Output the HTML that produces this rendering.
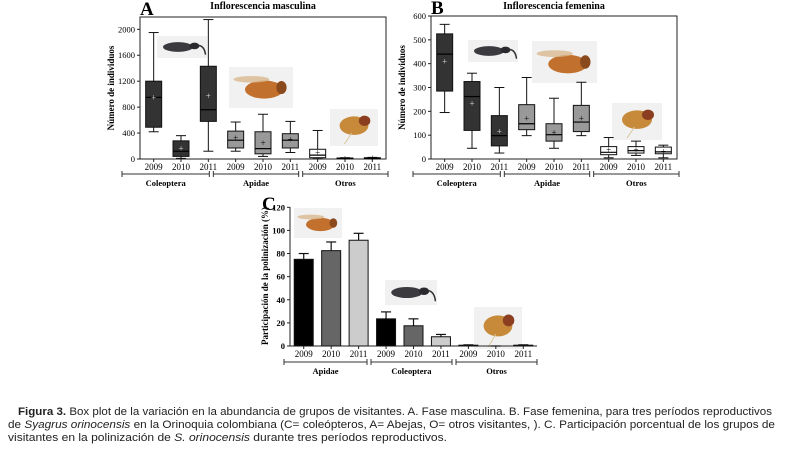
<!DOCTYPE html>
<html><head><meta charset="utf-8">
<style>
html,body{margin:0;padding:0;background:#fff;}
svg{display:block;}
.t{font-family:"Liberation Serif",serif;}
.c{font-family:"Liberation Sans",sans-serif;}
</style></head>
<body>
<svg id="fig" width="786" height="449" viewBox="0 0 786 449" xmlns="http://www.w3.org/2000/svg">
</svg>
<script>
// ---- data ----
const years = ["2009","2010","2011","2009","2010","2011","2009","2010","2011"];
const groupsAB = ["Coleoptera","Apidae","Otros"];
const groupsC = ["Apidae","Coleoptera","Otros"];
// Chart A box stats [min,q1,median,q3,max,mean]
const boxA = [
 [420,490,950,1200,1950,950],[10,40,120,280,360,160],[120,580,760,1430,2150,970],
 [120,170,290,430,570,320],[40,80,160,420,690,250],[100,170,290,390,580,300],
 [5,20,60,150,440,100],[0,5,10,15,20,10],[0,5,10,20,25,12]];
const ticksA = [0,400,800,1200,1600,2000];
// Chart B box stats
const boxB = [
 [195,285,440,525,565,410],[45,120,262,325,360,232],[25,55,98,182,300,115],
 [98,123,148,228,342,170],[45,75,102,148,255,112],[98,115,155,225,322,170],
 [5,18,28,52,90,37],[15,25,35,52,75,38],[5,22,30,50,58,32]];
const ticksB = [0,100,200,300,400,500,600];
// Chart C bars
const barC = [75,82.5,91.5,23.5,17.5,8,0.7,0,0.7];
const errC = [5,7.5,6,6,6,2,0.3,0,0.3];
const ticksC = [0,20,40,60,80,100,120];

const NS="http://www.w3.org/2000/svg";
const svg=document.getElementById('fig');
function el(tag,attrs,parent,text){const e=document.createElementNS(NS,tag);for(const k in attrs)e.setAttribute(k,attrs[k]);if(text!==undefined)e.textContent=text;(parent||svg).appendChild(e);return e;}

function insect(g,kind,x,y,w,h){
  el('rect',{x:x,y:y,width:w,height:h,fill:'#f1f1f1'},g);
  if(kind==='weevil'){
    el('ellipse',{cx:x+w*0.42,cy:y+h*0.5,rx:w*0.3,ry:h*0.22,fill:'#3a3a3f'},g);
    el('ellipse',{cx:x+w*0.75,cy:y+h*0.45,rx:w*0.1,ry:h*0.15,fill:'#2a2a2e'},g);
    el('path',{d:`M${x+w*0.82} ${y+h*0.42} Q${x+w*0.95} ${y+h*0.45} ${x+w*0.97} ${y+h*0.85}`,stroke:'#333',fill:'none','stroke-width':1.5},g);
  }else if(kind==='bee'){
    el('ellipse',{cx:x+w*0.55,cy:y+h*0.55,rx:w*0.3,ry:h*0.22,fill:'#c2702e'},g);
    el('ellipse',{cx:x+w*0.82,cy:y+h*0.5,rx:w*0.08,ry:h*0.16,fill:'#8a4a1e'},g);
    el('ellipse',{cx:x+w*0.35,cy:y+h*0.3,rx:w*0.28,ry:h*0.08,fill:'#d9b98e',opacity:0.8},g);
  }else{
    el('ellipse',{cx:x+w*0.5,cy:y+h*0.45,rx:w*0.3,ry:h*0.25,fill:'#c78a3a'},g);
    el('ellipse',{cx:x+w*0.72,cy:y+h*0.32,rx:w*0.12,ry:h*0.14,fill:'#8c3f20'},g);
    el('line',{x1:x+w*0.45,y1:y+h*0.65,x2:x+w*0.3,y2:y+h*0.95,stroke:'#d8c8a0','stroke-width':1},g);
  }
}

function axes(g,o){
  // o: x0,x1,yTop,yZero,vmax (value at yTop ref), ticks, tickRef
  const sy=v=>o.yZero-(v/o.refV)*(o.yZero-o.refY);
  el('rect',{x:o.x0,y:o.yTop,width:o.x1-o.x0,height:o.yZero-o.yTop,fill:'none',stroke:'#222','stroke-width':1},g);
  o.ticks.forEach(t=>{
    const y=sy(t);
    el('line',{x1:o.x0-3,y1:y,x2:o.x0,y2:y,stroke:'#222'},g);
    const tl=el('text',{x:o.x0-5,y:y+3,'font-size':8.5,'text-anchor':'end',class:'t'},g,String(t));
    
    
  });
  const slot=(o.x1-o.x0)/9;
  const cx=i=>o.x0+slot*(i+0.5);
  years.forEach((yr,i)=>{
    el('line',{x1:cx(i),y1:o.yZero,x2:cx(i),y2:o.yZero+3,stroke:'#222'},g);
    const tl=el('text',{x:cx(i),y:o.yZero+11,'font-size':9,'text-anchor':'middle',class:'t'},g,yr);
    
    
  });
  const by=o.yZero+15;
  o.groups.forEach((gname,k)=>{
    const a=o.x0-18+k*((o.x1-o.x0+22)/3)+ (k>0?2:0), b=o.x0-18+(k+1)*((o.x1-o.x0+22)/3)-2;
    el('line',{x1:a,y1:by,x2:b,y2:by,stroke:'#333'},g);
    el('line',{x1:a,y1:by-3,x2:a,y2:by+3,stroke:'#333'},g);
    el('line',{x1:b,y1:by-3,x2:b,y2:by+3,stroke:'#333'},g);
    const gl=el('text',{x:(a+b)/2,y:by+12,'font-size':8.5,'font-weight':'bold','text-anchor':'middle',class:'t'},g,gname);
    
    
  });
  return {sy,cx,slot};
}

function boxChart(name,letter,title,data,ticks,o,imgs){
  const g=el('g',{},svg);
  
  
  const L=el('text',{x:o.x0,y:o.yTop-2,'font-size':19,'font-weight':'bold',class:'t'},g,letter);
  
  const T=el('text',{x:(o.x0+o.x1)/2,y:9,'font-size':10,'font-weight':'bold','text-anchor':'middle',class:'t'},g,title);
  
  const Y=el('text',{transform:`translate(${o.x0-26},${(o.yTop+o.yZero)/2}) rotate(-90)`,'font-size':9,'font-weight':'bold','text-anchor':'middle',class:'t'},g,'Número de individuos');
  
  imgs.forEach(m=>insect(g,m[0],m[1],m[2],m[3],m[4]));
  o.ticks=ticks;o.groups=groupsAB;
  const ax=axes(g,o);
  const fills=['#333','#333','#333','#999','#999','#999','#fff','#fff','#fff'];
  const hw=8;
  data.forEach((d,i)=>{
    const c=ax.cx(i),s=ax.sy;
    const bg=el('g',{},g);
    
    
    el('line',{x1:c,y1:s(d[0]),x2:c,y2:s(d[4]),stroke:'#111'},bg);
    el('line',{x1:c-5,y1:s(d[0]),x2:c+5,y2:s(d[0]),stroke:'#111'},bg);
    el('line',{x1:c-5,y1:s(d[4]),x2:c+5,y2:s(d[4]),stroke:'#111'},bg);
    el('rect',{x:c-hw,y:s(d[3]),width:hw*2,height:Math.max(0.5,s(d[1])-s(d[3])),fill:fills[i],stroke:'#111'},bg);
    el('line',{x1:c-hw,y1:s(d[2]),x2:c+hw,y2:s(d[2]),stroke:'#000','stroke-width':1.2},bg);
    el('text',{x:c,y:s(d[5])+3,'font-size':9,'text-anchor':'middle',fill:fills[i]==='#333'?'#ddd':'#000',class:'t'},bg,'+');
  });
}

boxChart('chart-a-masculina','A','Inflorescencia masculina',boxA,ticksA,
  {x0:140,x1:386,yTop:17,yZero:159,refV:2000,refY:29.3},
  [['weevil',157,36,50,22],['bee',229,67,64,41],['fly',330,109,48,37]]);
boxChart('chart-b-femenina','B','Inflorescencia femenina',boxB,ticksB,
  {x0:431,x1:677,yTop:16,yZero:159,refV:600,refY:16},
  [['weevil',468,40,50,22],['bee',532,41,65,42],['fly',612,103,50,37]]);

// Chart C
(function(){
  const g=el('g',{},svg);
  
  
  const o={x0:290,x1:537,yTop:207,yZero:346,refV:120,refY:207.3,ticks:ticksC,groups:groupsC};
  const L=el('text',{x:262,y:210,'font-size':19,'font-weight':'bold',class:'t'},g,'C');
  
  const Y=el('text',{transform:`translate(268,276) rotate(-90)`,'font-size':9,'font-weight':'bold','text-anchor':'middle',class:'t'},g,'Participación de la polinización (%)');
  
  insect(g,'bee',294,208,48,30);insect(g,'weevil',385,280,52,25);insect(g,'fly',474,307,48,42);
  // open-style axes (left & bottom only)
  el('line',{x1:o.x0,y1:o.yTop,x2:o.x0,y2:o.yZero,stroke:'#222'},g);
  el('line',{x1:o.x0,y1:o.yZero,x2:o.x1,y2:o.yZero,stroke:'#222'},g);
  const sy=v=>o.yZero-(v/o.refV)*(o.yZero-o.refY);
  ticksC.forEach(t=>{const y=sy(t);el('line',{x1:o.x0-3,y1:y,x2:o.x0,y2:y,stroke:'#222'},g);
    const tl=el('text',{x:o.x0-5,y:y+3,'font-size':8.5,'text-anchor':'end','font-weight':'bold',class:'t'},g,String(t));
    });
  const slot=(o.x1-o.x0)/9, cx=i=>o.x0+slot*(i+0.5);
  years.forEach((yr,i)=>{el('line',{x1:cx(i),y1:o.yZero,x2:cx(i),y2:o.yZero+3,stroke:'#222'},g);
    const tl=el('text',{x:cx(i),y:o.yZero+11,'font-size':9,'text-anchor':'middle',class:'t'},g,yr);
    });
  const by=o.yZero+16;
  groupsC.forEach((gname,k)=>{
    const a=o.x0-6+k*((o.x1-o.x0+8)/3)+(k>0?2:0), b=o.x0-6+(k+1)*((o.x1-o.x0+8)/3)-2;
    el('line',{x1:a,y1:by,x2:b,y2:by,stroke:'#333'},g);
    el('line',{x1:a,y1:by-3,x2:a,y2:by+3,stroke:'#333'},g);
    el('line',{x1:b,y1:by-3,x2:b,y2:by+3,stroke:'#333'},g);
    const gl=el('text',{x:(a+b)/2,y:by+12,'font-size':8.5,'font-weight':'bold','text-anchor':'middle',class:'t'},g,gname);
    });
  const fills=['#000','#666','#ccc'];
  barC.forEach((v,i)=>{
    const c=cx(i),w=19,top=sy(v),et=sy(v+errC[i]);
    const bg=el('g',{},g);
    
    
    el('line',{x1:c,y1:top,x2:c,y2:et,stroke:'#111','stroke-width':1.2},bg);
    el('line',{x1:c-5,y1:et,x2:c+5,y2:et,stroke:'#111','stroke-width':1.2},bg);
    el('rect',{x:c-w/2,y:top,width:w,height:Math.max(0,o.yZero-top),fill:fills[i%3],stroke:'#111'},bg);
  });
})();

// Caption
const cap=el('g',{class:'c','font-size':11,fill:'#222'},svg);


const l1=el('text',{x:18,y:415,textLength:754,lengthAdjust:'spacingAndGlyphs'},cap);
el('tspan',{'font-weight':'bold'},l1,'Figura 3.');
el('tspan',{},l1,' Box plot de la variación en la abundancia de grupos de visitantes. A. Fase masculina. B. Fase femenina, para tres períodos reproductivos');
const l2=el('text',{x:8,y:428,textLength:767,lengthAdjust:'spacingAndGlyphs'},cap);
el('tspan',{},l2,'de ');
el('tspan',{'font-style':'italic'},l2,'Syagrus orinocensis');
el('tspan',{},l2,' en la Orinoquia colombiana (C= coleópteros, A= Abejas, O= otros visitantes, ). C. Participación porcentual de los grupos de');
const l3=el('text',{x:8,y:441,textLength:439,lengthAdjust:'spacingAndGlyphs'},cap);
el('tspan',{},l3,'visitantes en la polinización de ');
el('tspan',{'font-style':'italic'},l3,'S. orinocensis');
el('tspan',{},l3,' durante tres períodos reproductivos.');
</script>
</body></html>
